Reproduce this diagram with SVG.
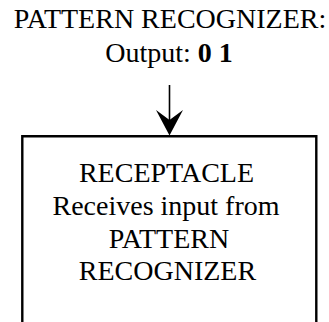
<svg xmlns="http://www.w3.org/2000/svg" width="329" height="322" viewBox="0 0 329 322">
  <style>
    .t { font-size: 28px; fill: #000; text-anchor: middle; }
    .b { font-weight: bold; }
    .box { fill: none; stroke: #000; stroke-width: 2.4; }
    .edge { stroke: #000; stroke-width: 1.6; fill: none; }
    .head { fill: #000; stroke: none; }
  </style>
  <rect width="329" height="322" fill="#fff"/>
  <g id="pattern-recognizer" font-family="'Liberation Serif', 'DejaVu Serif', serif">
    <text class="t" x="170" y="27.5">PATTERN RECOGNIZER:</text>
    <text class="t" x="169" y="61.5">Output: <tspan class="b">0 1</tspan></text>
  </g>
  <g id="receptacle" font-family="'Liberation Serif', 'DejaVu Serif', serif">
    <path class="box" d="M22.3,330 V136.3 H316.3 V330"/>
    <text class="t" x="166.5" y="182">RECEPTACLE</text>
    <text class="t" x="166" y="215">Receives input from</text>
    <text class="t" x="169" y="247.5">PATTERN</text>
    <text class="t" x="167.5" y="280">RECOGNIZER</text>
  </g>
  <g id="connectors">
    <line class="edge" x1="169.5" y1="85" x2="169.5" y2="120"/>
    <polygon class="head" points="156,110 169.5,120 183,110 169.5,135.5"/>
  </g>
</svg>
